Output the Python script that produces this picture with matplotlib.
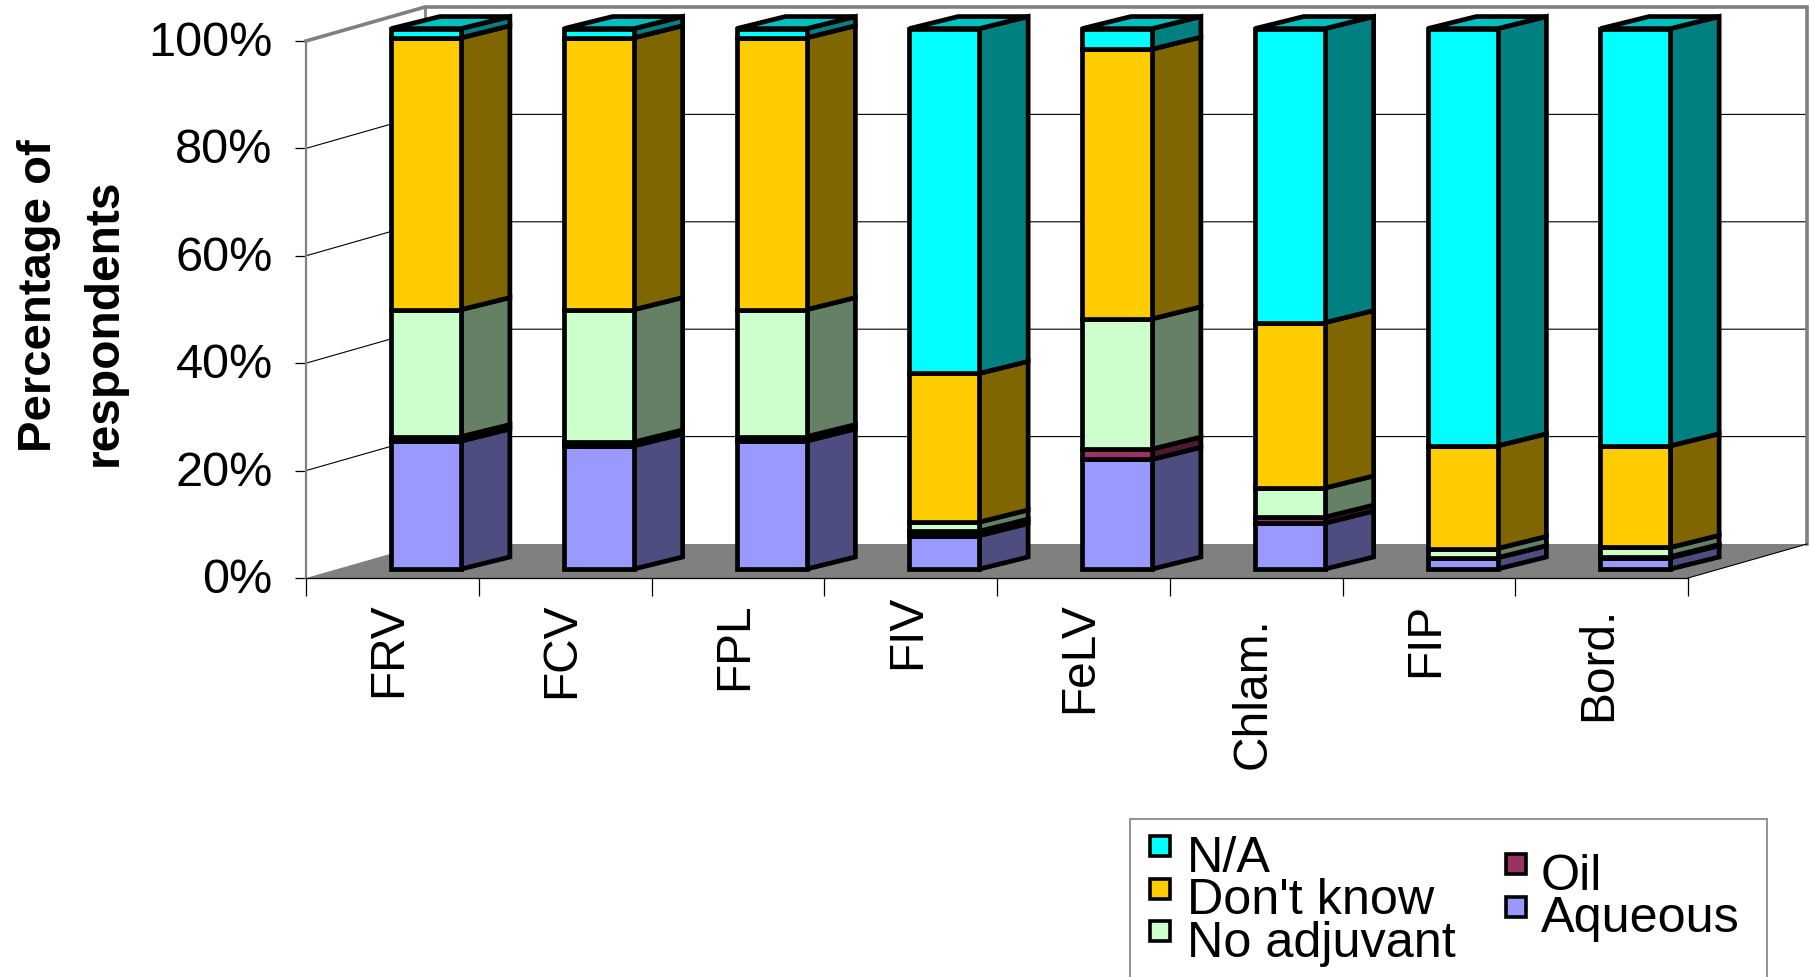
import numpy as np
import matplotlib
matplotlib.use("Agg")
import matplotlib.pyplot as plt
from matplotlib.patches import Polygon, Rectangle
from matplotlib.transforms import ScaledTranslation

plt.rcParams['font.family'] = ['Liberation Sans', 'DejaVu Sans']

# Data (percent of respondents)
categories = ['FRV', 'FCV', 'FPL', 'FIV', 'FeLV', 'Chlam.', 'FIP', 'Bord.']
aqueous = [23.7, 22.8, 23.7, 6.2, 20.3, 8.5, 2.1, 2.1]
oil = [0.8, 0.7, 0.8, 0.8, 1.9, 1.1, 0.0, 0.2]
no_adjuvant = [23.5, 24.5, 23.5, 1.7, 24.1, 5.4, 1.7, 1.7]
dont_know = [50.3, 50.3, 50.3, 27.5, 49.9, 30.6, 19.0, 18.8]
na = [1.7, 1.7, 1.7, 63.8, 3.8, 54.4, 77.2, 77.2]

series = [aqueous, oil, no_adjuvant, dont_know, na]
front_colors = ['#9999FF', '#993366', '#CCFFCC', '#FFCC00', '#00FFFF']
side_colors = ['#4D4D80', '#4D1933', '#668066', '#806600', '#008080']
top_color = '#00C0C0'

legend_left = ['N/A', "Don't know", 'No adjuvant']
legend_left_colors = ['#00FFFF', '#FFCC00', '#CCFFCC']
legend_right = ['Oil', 'Aqueous']
legend_right_colors = ['#993366', '#9999FF']

W, H = 1810, 978
fig = plt.figure(figsize=(W / 100, H / 100), dpi=100)

# front plane of the chart box
left, right, top, bottom = 306, 1688, 42, 579
ax = fig.add_axes([left / W, 1 - bottom / H, (right - left) / W, (bottom - top) / H])
ax.set_xlim(0, len(categories))
ax.set_ylim(0, 100)
ax.patch.set_visible(False)

# depth of the box in data units
depth_x = 119 / ((right - left) / len(categories))
depth_y = 34 / ((bottom - top) / 100)


def proj(x, y, d):
    return (x + d * depth_x, y + d * depth_y)


n = len(categories)
gray = '#808080'

# floor
ax.add_patch(Polygon([proj(0, 0, 0), proj(n, 0, 0), proj(n, 0, 1), proj(0, 0, 1)],
                     facecolor=gray, edgecolor='none', clip_on=False, zorder=1))

# gridlines, left wall and back wall
for v in [20, 40, 60, 80]:
    xs, ys = zip(proj(0, v, 0), proj(0, v, 1), proj(n, v, 1))
    ax.plot(xs, ys, color='black', lw=0.8, clip_on=False, zorder=1.5)

# wall outlines
xs, ys = zip(proj(0, 100, 0), proj(0, 100, 1), proj(n, 100, 1), proj(n, 0, 1))
ax.plot(xs, ys, color=gray, lw=2.6, clip_on=False, zorder=2, solid_joinstyle='miter')
xs, ys = zip(proj(0, 100, 1), proj(0, 0, 1))
ax.plot(xs, ys, color=gray, lw=2.0, clip_on=False, zorder=1.6)
xs, ys = zip(proj(n, 0, 0), proj(n, 0, 1))
ax.plot(xs, ys, color='black', lw=0.8, clip_on=False, zorder=2)

# bars, front face + side face per segment, then the lid
bar_offset = 0.355
bar_width = 0.405
d1, d2 = 0.2, 0.61
lw = 3.4
# bars stand a touch off the floor and run slightly taller than the wall scale
bar_floor = 0.4
bar_scale = 1.0064
# back edge of the bars rises a little less than the box depth would give
back_drop = 0.35
for i in range(n):
    x0 = i + bar_offset
    x1 = x0 + bar_width
    base = bar_floor
    for vals, fc, sc in zip(series, front_colors, side_colors):
        t = base + vals[i] * bar_scale
        side = [proj(x1, base, d1), proj(x1, base - back_drop, d2),
                proj(x1, t - back_drop, d2), proj(x1, t, d1)]
        front = [proj(x0, base, d1), proj(x1, base, d1), proj(x1, t, d1), proj(x0, t, d1)]
        ax.add_patch(Polygon(side, facecolor=sc, edgecolor='black', lw=lw,
                             clip_on=False, zorder=3 + i * 0.01, joinstyle='miter'))
        ax.add_patch(Polygon(front, facecolor=fc, edgecolor='black', lw=lw,
                             clip_on=False, zorder=3 + i * 0.01, joinstyle='miter'))
        base = t
    lid = [proj(x0, base, d1), proj(x1, base, d1),
           proj(x1, base - back_drop, d2), proj(x0, base - back_drop, d2)]
    ax.add_patch(Polygon(lid, facecolor=top_color, edgecolor='black', lw=lw,
                         clip_on=False, zorder=3 + i * 0.01, joinstyle='miter'))

# axes
for s in ['top', 'right']:
    ax.spines[s].set_visible(False)
ax.spines['left'].set_color(gray)
ax.spines['left'].set_linewidth(1.6)
ax.spines['bottom'].set_color('black')
ax.spines['bottom'].set_linewidth(0.9)
ax.spines['left'].set_zorder(2)
ax.spines['bottom'].set_zorder(2)

ax.set_yticks([0, 20, 40, 60, 80, 100])
ax.set_yticklabels(['0%', '20%', '40%', '60%', '80%', '100%'], fontsize=35)
ax.tick_params(axis='y', length=8, width=0.9, pad=16)
# tick labels sit slightly above their ticks in the original
lift = ScaledTranslation(0, 3.5 / 100, fig.dpi_scale_trans)
for lab in ax.get_yticklabels():
    lab.set_transform(lab.get_transform() + lift)

ax.set_xticks(np.arange(n + 1), minor=True)
ax.set_xticks(np.arange(n) + 0.48)
ax.set_xticklabels(categories, rotation=90, fontsize=34.5)
ax.tick_params(axis='x', which='minor', length=13, width=0.9)
ax.tick_params(axis='x', which='major', length=0, pad=17)
# a few labels sit at their own height in the original
ax.get_xticklabels()[3].set_y(0.015)
ax.get_xticklabels()[5].set_y(-0.028)
ax.get_xticklabels()[7].set_y(-0.008)

# y title, two separately placed lines
fig.text(39 / W, 1 - 452 / H, 'Percentage of', rotation=90, fontsize=34, fontweight='bold',
         ha='center', va='bottom')
fig.text(104 / W, 1 - 466 / H, 'respondents', rotation=90, fontsize=34.5, fontweight='bold',
         ha='center', va='bottom')

# legend box runs off the bottom of the picture
fig.add_artist(Rectangle((1130 / W, -0.02), 637 / W, 1 - 820 / H + 0.02, transform=fig.transFigure,
                         facecolor='white', edgecolor=gray, lw=1.2))


def legend_column(x_box, x_text, y_start, labels, colors):
    for k, (lab, col) in enumerate(zip(labels, colors)):
        yc = y_start + k * 42.5
        fig.add_artist(Rectangle((x_box / W, 1 - (yc + 10) / H), 20 / W, 20 / H,
                                 transform=fig.transFigure, facecolor=col,
                                 edgecolor='black', lw=2.6))
        fig.text(x_text / W, 1 - (yc + 12) / H, lab, fontsize=36.3, ha='left', va='center')


legend_column(1150, 1187, 847, legend_left, legend_left_colors)
legend_column(1506, 1541, 865, legend_right, legend_right_colors)

fig.savefig('out.png', dpi=100)
